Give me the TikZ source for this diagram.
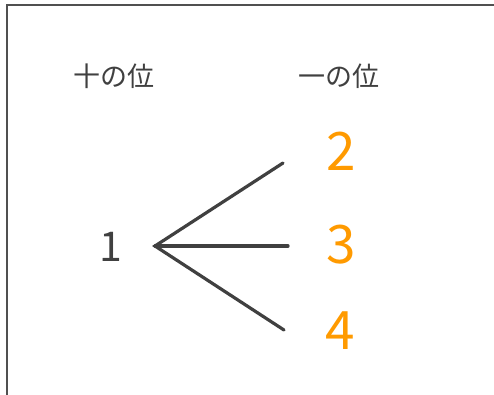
\documentclass[tikz,border=0pt]{standalone}
\usepackage{fontspec}
\newfontfamily\jpfont{Noto Sans CJK JP}
\definecolor{ink}{HTML}{404040}
\definecolor{frame}{HTML}{505050}
\definecolor{digit}{HTML}{FF9A00}
\begin{document}
\begin{tikzpicture}[x=1pt,y=-1pt,
  label/.style={font=\jpfont\fontsize{27}{32}\selectfont, text=ink, inner sep=0pt},
  num/.style={font=\jpfont\fontsize{53}{60}\selectfont, text=digit, inner sep=0pt},
  tens/.style={font=\jpfont\fontsize{41}{48}\selectfont, text=ink, inner sep=0pt},
  branch/.style={draw=ink, line width=3.2pt, line cap=round}]
\useasboundingbox (0,0) rectangle (494,394);
\draw[frame, line width=2.5pt] (7,400) -- (7,5) -- (500,5);
\node[label] (tenlab) at (114,76) {十の位};
\node[label] (onelab) at (339,76) {一の位};
\node[tens] (one) at (111,247) {1};
\node[num] (d2) at (341,151) {2};
\node[num] (d3) at (341,245) {3};
\node[num] (d4) at (340,331) {4};
\coordinate (v) at (155,246);
\coordinate (e2) at (283,163);
\coordinate (e3) at (288,246);
\coordinate (e4) at (284,330);
\draw[branch] (e2) -- (v) -- (e4);
\draw[branch] (v) -- (e3);
\end{tikzpicture}
\end{document}
